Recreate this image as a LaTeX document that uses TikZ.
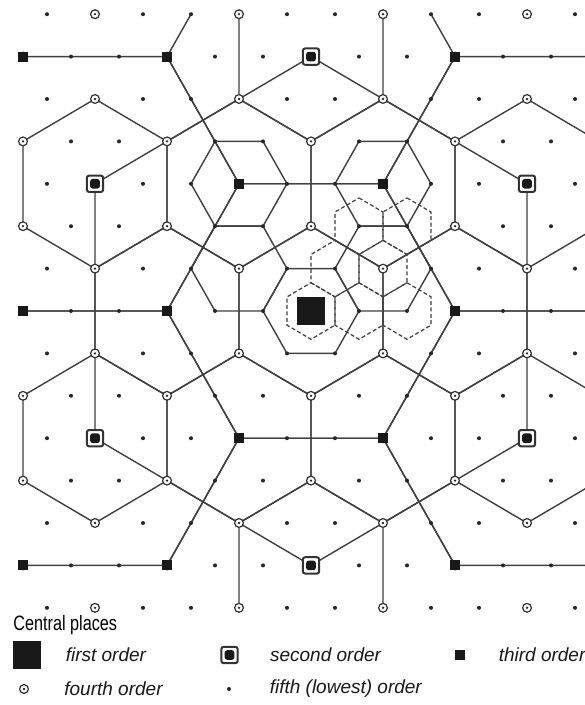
\documentclass[tikz,border=0pt]{standalone}
\usepackage{fontspec}
\setmainfont{Liberation Sans}
\newfontfamily\headfont[FakeStretch=0.78]{Liberation Sans}
\usetikzlibrary{positioning}

\begin{document}
\begin{tikzpicture}[x=0.5pt, y=-0.5pt,
    net/.style={draw=black!75, line width=0.7pt, line join=round},
    zone/.style={draw=black!75, line width=0.6pt, dash pattern=on 2pt off 1.2pt},
    fifth/.style={circle, fill=black!85, inner sep=0pt, minimum size=2pt},
    fourth/.style={circle, draw=black!80, fill=white, line width=0.6pt, inner sep=0pt, minimum size=4.4pt,
        path picture={\fill[black!85] (path picture bounding box.center) circle (0.65pt);}},
    third/.style={rectangle, fill=black!90, inner sep=0pt, minimum size=5pt},
    second/.style={rectangle, draw=black!80, fill=white, line width=1pt, rounded corners=1.2pt, inner sep=0pt, minimum size=8.2pt,
        path picture={\fill[black!90] ([shift={(-2.4pt,-2.4pt)}]path picture bounding box.center) rectangle ++(4.8pt,4.8pt);}},
    first/.style={rectangle, fill=black!90, inner sep=0pt, minimum size=14pt},
    legtext/.style={font=\fontsize{9.5}{11}\selectfont\itshape, inner sep=0pt, text=black!90},
    headtext/.style={font=\headfont\fontsize{10.4}{12}\selectfont, inner sep=0pt, text=black}]

\path[use as bounding box, fill=white] (0,0) rectangle (584,705);

% lattice: 24px per half step across, 42.4px per row
\begin{scope}[xshift=155.5pt, yshift=-155.5pt, x=12pt, y=-21.2pt]
  \begin{scope}
    \clip (-12.03,-7.02) rectangle (12.6,7.02);
    % third order market areas
    \foreach \a/\b in {0/0,-3/-3,3/-3,-6/0,6/0,-3/3,3/3,0/-6,0/6,-9/-3,9/-3,-9/3,9/3}
      \draw[net] (\a,\b-2) -- ++(3,1) -- ++(0,2) -- ++(-3,1) -- ++(-3,-1) -- ++(0,-2) -- cycle;
    % fourth order market areas
    \foreach \a/\b in {0/0,-3/-3,3/-3,-3/-1,3/-1}
      \draw[net] (\a+2,\b) -- ++(-1,1) -- ++(-2,0) -- ++(-1,-1) -- ++(1,-1) -- ++(2,0) -- cycle;
    % fifth order market areas (dashed)
    \foreach \a/\b in {0/0,1/-1,2/-2,4/-2,3/-1,2/0,4/0}
      \draw[zone] (\a,\b-2/3) -- ++(1,1/3) -- ++(0,2/3) -- ++(-1,1/3) -- ++(-1,-1/3) -- ++(0,-2/3) -- cycle;
    \clip (-12.03,-7.02) rectangle (12.6,6.02);
    % second order market areas
    \foreach \a/\b in {0/0,0/-6,0/6,-9/-3,9/-3,-9/3,9/3}
      \draw[net] (\a+6,\b) -- ++(-3,3) -- ++(-6,0) -- ++(-3,-3) -- ++(3,-3) -- ++(6,0) -- cycle;
    % first order market area
    \draw[net] (0,-6) -- (9,-3) -- (9,3) -- (0,6) -- (-9,3) -- (-9,-3) -- cycle;
  \end{scope}

  % fifth order places
  \foreach \j in {-6,-4,...,6}
    \foreach \i in {-12,-10,...,12}
      \node[fifth] (d\i_\j) at (\i,\j) {};
  \foreach \j in {-7,-5,...,7}
    \foreach \i in {-11,-9,...,11}
      \node[fifth] (d\i_\j) at (\i,\j) {};
  % fourth order places
  \foreach \j in {-6,-4,...,6}
    \foreach \i in {-12,-6,...,12}
      \node[fourth] (o\i_\j) at (\i,\j) {};
  \foreach \j in {-7,-5,...,7}
    \foreach \i in {-9,-3,...,9}
      \node[fourth] (o\i_\j) at (\i,\j) {};
  % third order places
  \foreach \i/\j in {-12/-6,-6/-6,6/-6,12/-6,-3/-3,3/-3,-12/0,-6/0,6/0,12/0,-3/3,3/3,-12/6,-6/6,6/6,12/6}
    \node[third] (t\i_\j) at (\i,\j) {};
  % second order places
  \foreach \i/\j in {0/-6,-9/-3,9/-3,-9/3,9/3,0/6}
    \node[second] (s\i_\j) at (\i,\j) {};
  \node[first] (capital) at (0,0) {};
\end{scope}

% key
\node[headtext, anchor=west] (heading) at (13,625) {Central places};
\node[first] (keyfirst) at (27,655) {};
\node[legtext, right=12pt of keyfirst] (lblfirst) {first order};
\node[second] (keysecond) at (229.5,655) {};
\node[legtext, right=15.5pt of keysecond] (lblsecond) {second order};
\node[third] (keythird) at (460,655) {};
\node[legtext, right=16.5pt of keythird] (lblthird) {third order};
\node[fourth] (keyfourth) at (24,689) {};
\node[legtext, right=17.5pt of keyfourth] (lblfourth) {fourth order};
\node[fifth] (keyfifth) at (229,689) {};
\node[legtext, right=19pt of keyfifth] (lblfifth) {fifth (lowest) order};
\end{tikzpicture}
\end{document}
